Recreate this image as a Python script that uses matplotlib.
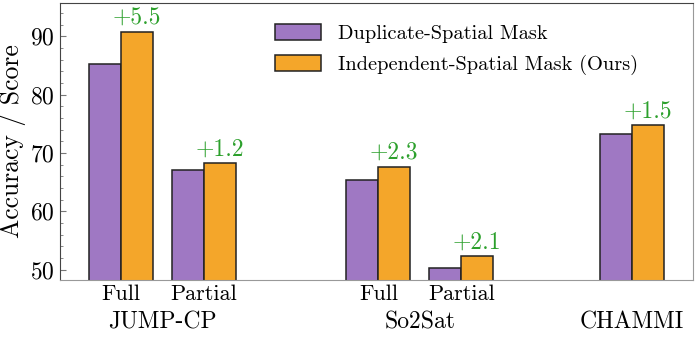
import matplotlib
matplotlib.use("Agg")
import matplotlib.pyplot as plt
import numpy as np
from matplotlib.ticker import MultipleLocator

plt.rcParams['font.family'] = ['cmr10', 'DejaVu Serif']
plt.rcParams['mathtext.fontset'] = 'cm'
plt.rcParams['axes.formatter.use_mathtext'] = True

# data
sub_labels = ['Full', 'Partial', 'Full', 'Partial', '']
groups = ['JUMP-CP', 'So2Sat', 'CHAMMI']
duplicate = [85.2, 67.0, 65.3, 50.2, 73.2]
independent = [90.7, 68.2, 67.6, 52.3, 74.7]
gains = ['+5.5', '+1.2', '+2.3', '+2.1', '+1.5']
series_names = ['Duplicate-Spatial Mask', 'Independent-Spatial Mask (Ours)']

x = np.array([0, 1, 3.1, 4.1, 6.15])
w = 0.385
purple = '#9f78c3'
orange = '#f4a62a'

fig = plt.figure(figsize=(6.97, 3.37), dpi=100)
ax = fig.add_axes([60 / 697, 1 - 280 / 337, 633 / 697, 277 / 337])

ax.bar(x - w / 2, duplicate, w, color=purple, edgecolor='#222222', linewidth=1.1,
       label=series_names[0])
ax.bar(x + w / 2, independent, w, color=orange, edgecolor='#222222', linewidth=1.1,
       label=series_names[1])

for xi, v, g in zip(x, independent, gains):
    ax.text(xi + w / 2, v + 0.5, g, color='#2ca02c', ha='center', va='bottom', fontsize=17)

ax.set_ylim(48.2, 95.7)
ax.set_xlim(-0.735, 6.89)
ax.yaxis.set_major_locator(MultipleLocator(10))
ax.yaxis.set_minor_locator(MultipleLocator(2))
ax.tick_params(axis='y', which='both', direction='in', left=True, right=False, labelsize=17)
ax.tick_params(axis='y', which='major', length=4, width=0.8, color='#777777', pad=4)
ax.tick_params(axis='y', which='minor', length=2, width=0.6, color='#777777')
ax.set_xticks(x)
ax.set_xticklabels(sub_labels, fontsize=16)
ax.tick_params(axis='x', length=0, pad=3)
ax.set_ylabel('Accuracy / Score', fontsize=18.5, labelpad=3)

for s in ['top', 'left']:
    ax.spines[s].set_color('#444444')
for s in ['bottom', 'right']:
    ax.spines[s].set_color('#999999')

# group labels under the sub-labels
centers = [(x[0] + x[1]) / 2, (x[2] + x[3]) / 2, x[4]]
trans = ax.get_xaxis_transform()
for c, g in zip(centers, groups):
    ax.text(c, -0.155, g, transform=trans, ha='center', va='center', fontsize=17)

ax.legend(loc='upper left', bbox_to_anchor=(0.31, 0.99), frameon=False, fontsize=14.7,
          handlelength=2.25, handleheight=0.85, labelspacing=0.58, handletextpad=0.85)

fig.savefig('out.png', dpi=100)
